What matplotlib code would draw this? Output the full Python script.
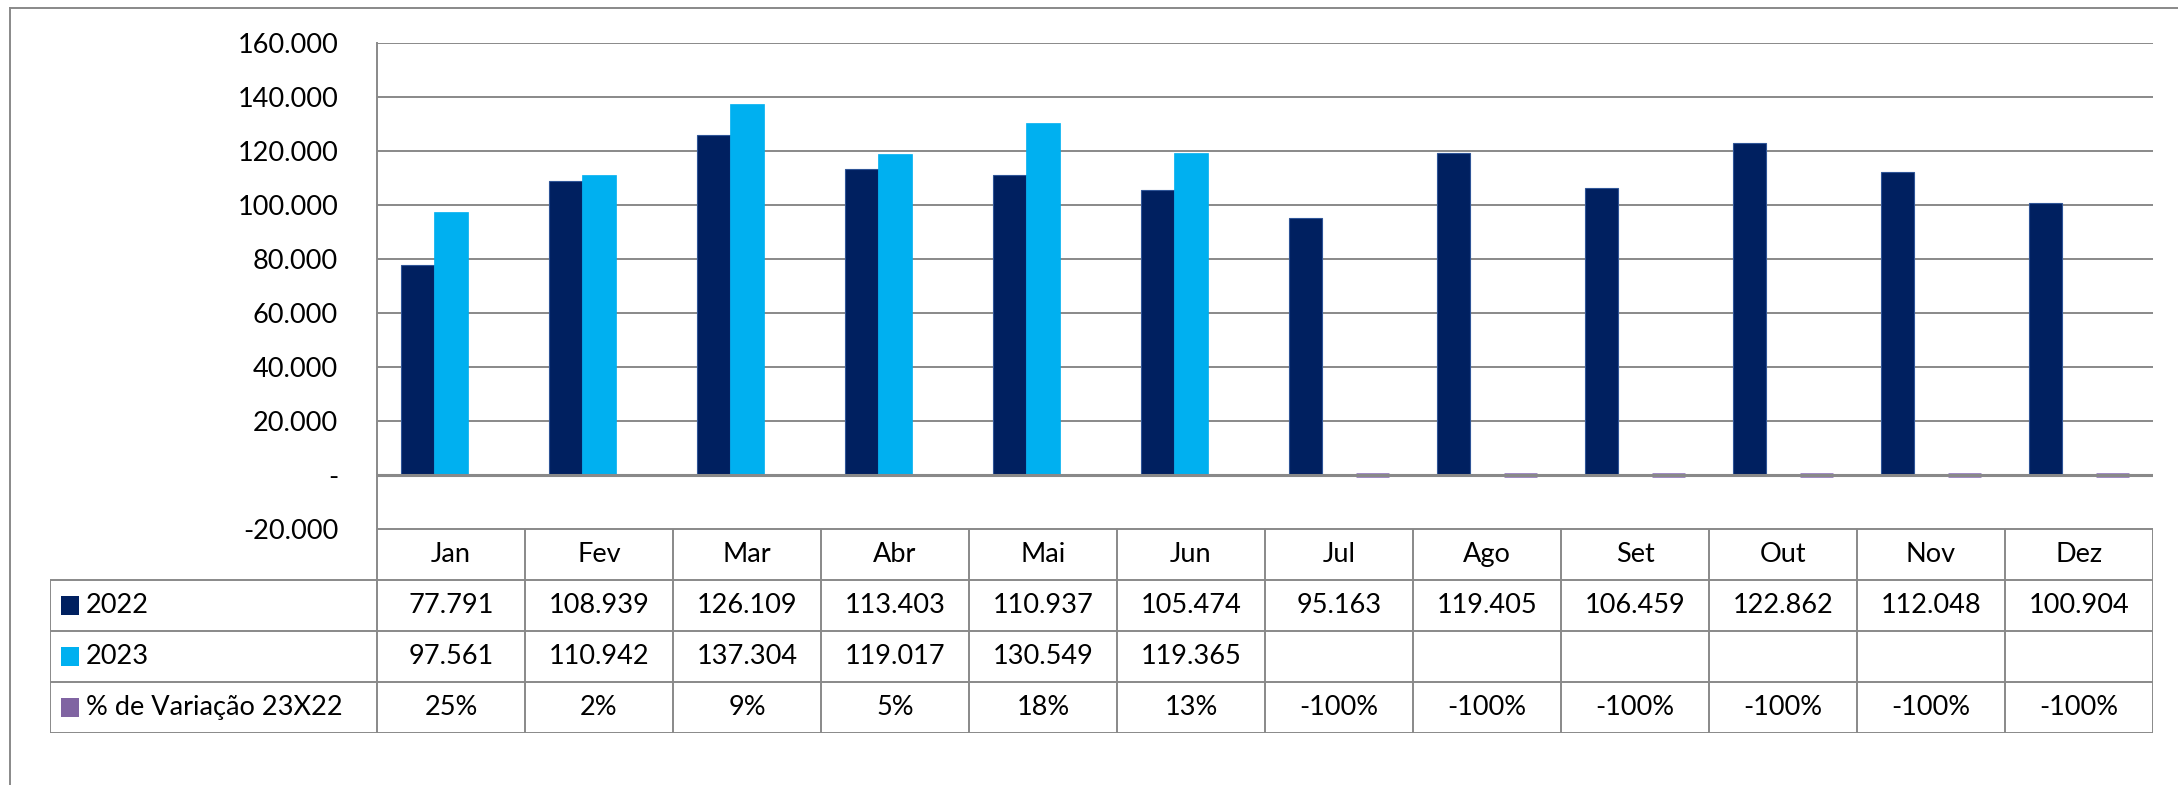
import matplotlib.pyplot as plt
from matplotlib.lines import Line2D
import numpy as np

# data
months = ["Jan", "Fev", "Mar", "Abr", "Mai", "Jun", "Jul", "Ago", "Set", "Out", "Nov", "Dez"]
v2022 = [77791, 108939, 126109, 113403, 110937, 105474, 95163, 119405, 106459, 122862, 112048, 100904]
v2023 = [97561, 110942, 137304, 119017, 130549, 119365]
pct = [0.25, 0.02, 0.09, 0.05, 0.18, 0.13, -1, -1, -1, -1, -1, -1]
row_names = ["2022", "2023", "% de Variação 23X22"]
row_colors = ["#002060", "#00B0F0", "#8064A2"]

plt.rcParams['font.family'] = ['Lato', 'DejaVu Sans']
FS = 19.5
GRID = "#898989"

W, H = 2178, 785
fig = plt.figure(figsize=(W / 100, H / 100), dpi=100)

def fx(x):
    return x / W

def fy(y):
    return 1 - y / H

# outer frame (only top and left are inside the picture)
fig.add_artist(Line2D([fx(10), fx(W)], [fy(8), fy(8)], color=GRID, lw=1.4))
fig.add_artist(Line2D([fx(10), fx(10)], [fy(8), fy(H)], color=GRID, lw=1.4))

# plot area
pl, pr, pt, pb = 377, 2153, 43, 529
ax = fig.add_axes([fx(pl), fy(pb), fx(pr - pl), fy(pt) - fy(pb)])
n = len(months)
x = np.arange(n) + 0.5
w = 0.224

ax.bar(x[:len(v2022)] - w, v2022, w, color=row_colors[0], edgecolor="#2F5597", linewidth=0.8, zorder=2)
ax.bar(x[:len(v2023)], v2023, w, color=row_colors[1], edgecolor=row_colors[1], linewidth=0.5, zorder=2)
# the % series is tiny on this scale; excel still shows the -100% ones as a thin dash
ax.bar(x + w, pct, w, color=row_colors[2], edgecolor="#9B85C2",
       linewidth=[3.5 if p < 0 else 0 for p in pct], zorder=1)

ax.set_xlim(0, n)
ax.set_ylim(-20000, 160000)
yt = np.arange(-20000, 160001, 20000)
ax.set_yticks(yt)
ax.set_yticklabels(["-" if v == 0 else f"{v:,}".replace(",", ".") for v in yt], fontsize=FS)
ax.tick_params(axis="y", length=0, pad=28)
ax.set_xticks([])
for v in yt:
    ax.axhline(v, color=GRID, lw=1.4 if v != 0 else 2.2, zorder=0.5 if v != 0 else 3)
for s in ["top", "right", "bottom"]:
    ax.spines[s].set_visible(False)
ax.spines["left"].set_color(GRID)
ax.spines["left"].set_linewidth(1.4)

# data table below
tl, tr, tt, tb = 50, 2153, 529, 733
tax = fig.add_axes([fx(tl), fy(tb), fx(tr - tl), fy(tt) - fy(tb)])
cat_px = (pr - pl) / n
leg = (pl - tl) / cat_px
tax.set_xlim(-leg, n)
tax.set_ylim(4, 0)
tax.axis("off")

tax.plot([0, n], [0, 0], color=GRID, lw=1.4, solid_capstyle="butt")
for r in range(1, 5):
    tax.plot([-leg, n], [r, r], color=GRID, lw=1.4, solid_capstyle="butt")
tax.plot([-leg, -leg], [1, 4], color=GRID, lw=1.4, solid_capstyle="butt")
for c in range(n + 1):
    tax.plot([c, c], [0, 4], color=GRID, lw=1.4, solid_capstyle="butt")

for i, m in enumerate(months):
    tax.text(i + 0.5, 0.5, m, ha="center", va="center", fontsize=FS)

def fmt(v):
    return f"{v:,}".replace(",", ".")

rows = [[fmt(v) for v in v2022],
        [fmt(v) for v in v2023],
        [f"{round(p * 100):d}%" for p in pct]]
for r, vals in enumerate(rows):
    yy = r + 1.5
    for i, s in enumerate(vals):
        tax.text(i + 0.5, yy, s, ha="center", va="center", fontsize=FS)
    mx = -leg + (70 - tl) / cat_px
    tax.scatter([mx], [yy], marker="s", s=175, color=row_colors[r], edgecolors="none")
    tax.text(-leg + (86 - tl) / cat_px, yy, row_names[r], ha="left", va="center", fontsize=FS)

fig.savefig("out.png", dpi=100)
